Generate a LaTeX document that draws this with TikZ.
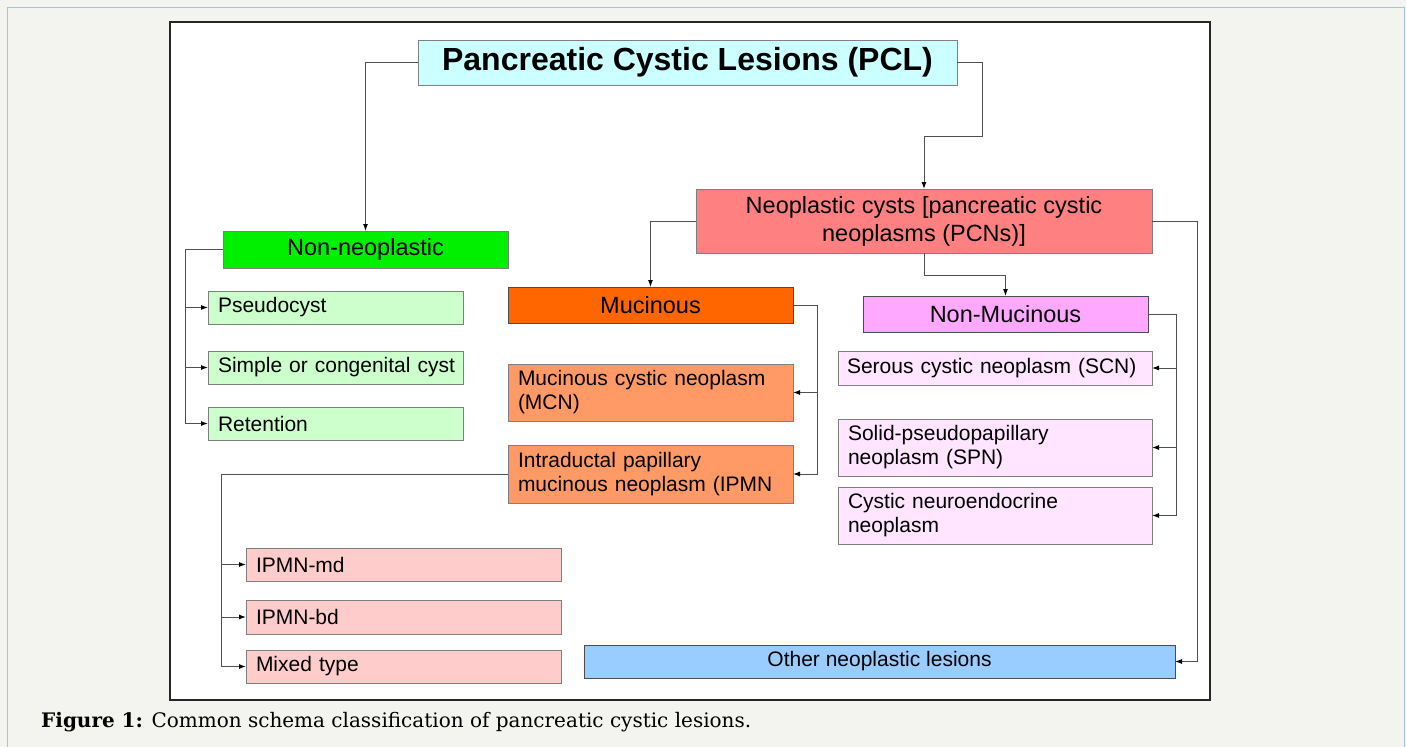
\documentclass[tikz,border=0pt]{standalone}
\usepackage{fontspec}
\setmainfont{Liberation Sans}
\newfontfamily\capfont{DejaVu Serif}
\usetikzlibrary{arrows.meta,calc}
\definecolor{pagebg}{HTML}{F3F3EF}
\definecolor{framebl}{HTML}{9DC3E6}
\definecolor{edgegray}{HTML}{7F7F7F}
\definecolor{linegray}{HTML}{505050}
\definecolor{cTitle}{HTML}{CCFFFF}
\definecolor{cNonNeo}{HTML}{00F000}
\definecolor{cLGreen}{HTML}{CCFFCC}
\definecolor{cNeo}{HTML}{FF8080}
\definecolor{cMuc}{HTML}{FF6600}
\definecolor{cMucSub}{HTML}{FF9966}
\definecolor{cIpmn}{HTML}{FFCCCC}
\definecolor{cNonMuc}{HTML}{FFA8FF}
\definecolor{cNonMucSub}{HTML}{FFE5FF}
\definecolor{cOther}{HTML}{99CCFF}
\newcommand\bodyfont{\fontsize{21}{24}\selectfont}
\newcommand\headfont{\fontsize{23.5}{28}\selectfont}
\begin{document}
\begin{tikzpicture}[x=1pt,y=-1pt,
  box/.style={draw=edgegray, line width=1pt, anchor=north west, inner xsep=0pt, inner ysep=0pt, outer sep=0pt},
  lbox/.style={box, font=\bodyfont, align=left},
  hbox/.style={box, font=\headfont, align=center},
  conn/.style={draw=linegray, line width=1pt, -{Latex[length=7pt,width=5pt,black]}},
  bus/.style={draw=linegray, line width=1pt}]
\useasboundingbox (0,0) rectangle (1406,747);
\fill[pagebg] (0,0) rectangle (1406,747);
\draw[framebl, line width=1pt] (7,747) -- (7,7) -- (1404,7) -- (1404,747);
\draw[fill=white, draw=black!85, line width=1.2pt] (170,22) rectangle (1210,700);

% nodes
\node[box, fill=cTitle, minimum width=539, minimum height=45, font=\fontsize{32}{36}\selectfont\bfseries] (pcl) at (418,40) {Pancreatic Cystic Lesions (PCL)};

\node[hbox, fill=cNonNeo, minimum width=285, minimum height=37] (nonneo) at (223,231) {Non-neoplastic};
\node[lbox, fill=cLGreen, minimum width=255, minimum height=33, text width=235] (pseudo) at (208,291) {Pseudocyst};
\node[lbox, fill=cLGreen, minimum width=255, minimum height=33, text width=235] (simple) at (208,351) {\mbox{Simple or congenital cyst}};
\node[lbox, fill=cLGreen, minimum width=255, minimum height=33, text width=235] (ret) at (208,407) {Retention};

\node[hbox, fill=cNeo, minimum width=456, minimum height=64] (neo) at (696,189) {Neoplastic cysts [pancreatic cystic\\neoplasms (PCNs)]};

\node[hbox, fill=cMuc, minimum width=285, minimum height=36, draw=black!70] (muc) at (508,287) {Mucinous};
\node[lbox, fill=cMucSub, minimum width=285, minimum height=57, text width=265] (mcn) at (508,364) {Mucinous cystic neoplasm\\(MCN)};
\node[lbox, fill=cMucSub, minimum width=285, minimum height=58, text width=265] (ipmn) at (508,445) {Intraductal papillary\\mucinous neoplasm (IPMN};

\node[lbox, fill=cIpmn, minimum width=315, minimum height=33, text width=295] (md) at (246,548) {IPMN-md};
\node[lbox, fill=cIpmn, minimum width=315, minimum height=34, text width=295] (bd) at (246,600) {IPMN-bd};
\node[lbox, fill=cIpmn, minimum width=315, minimum height=33, text width=295] (mixed) at (246,650) {Mixed type};

\node[hbox, fill=cNonMuc, minimum width=285, minimum height=36, draw=black!70] (nonmuc) at (863,296) {Non-Mucinous};
\node[lbox, fill=cNonMucSub, minimum width=314, minimum height=34, text width=296] (scn) at (838,351) {Serous cystic neoplasm (SCN)};
\node[lbox, fill=cNonMucSub, minimum width=314, minimum height=57, text width=294] (spn) at (838,419) {Solid-pseudopapillary\\neoplasm (SPN)};
\node[lbox, fill=cNonMucSub, minimum width=314, minimum height=57, text width=294] (cne) at (838,487) {Cystic neuroendocrine\\neoplasm};

\node[box, fill=cOther, minimum width=591, minimum height=33, font=\bodyfont, draw=black!70] (other) at (584,645) {Other neoplastic lesions};

% connectors
\draw[conn] (pcl.west) -| (nonneo.north);
\draw[conn] (pcl.east) -- ++(25,0) -- ++(0,74) -| (neo.north);

\coordinate (b1) at ($(nonneo.west)+(-38,0)$);
\draw[bus] (nonneo.west) -- (b1);
\draw[conn] (b1) |- (pseudo.west);
\draw[conn] (b1) |- (simple.west);
\draw[conn] (b1) |- (ret.west);

\draw[conn] (neo.west) -| (muc.north);
\draw[conn] (neo.south) -- ++(0,22) -| (nonmuc.north);
\draw[conn] (neo.east) -- ++(45,0) |- (other.east);

\coordinate (b2) at ($(muc.east)+(24,0)$);
\draw[bus] (muc.east) -- (b2);
\draw[conn] (b2) |- (mcn.east);
\draw[conn] (b2) |- (ipmn.east);

\coordinate (b3) at ($(ipmn.west)+(-287,0)$);
\draw[bus] (ipmn.west) -- (b3);
\draw[conn] (b3) |- (md.west);
\draw[conn] (b3) |- (bd.west);
\draw[conn] (b3) |- (mixed.west);

\coordinate (b4) at ($(nonmuc.east)+(28,0)$);
\draw[bus] (nonmuc.east) -- (b4);
\draw[conn] (b4) |- (scn.east);
\draw[conn] (b4) |- (spn.east);
\draw[conn] (b4) |- (cne.east);

% caption
\node[anchor=west, inner sep=0pt, font=\capfont\fontsize{20}{24}\selectfont] (cap) at (41,722) {\textbf{Figure 1:} Common schema classification of pancreatic cystic lesions.};
\end{tikzpicture}
\end{document}
